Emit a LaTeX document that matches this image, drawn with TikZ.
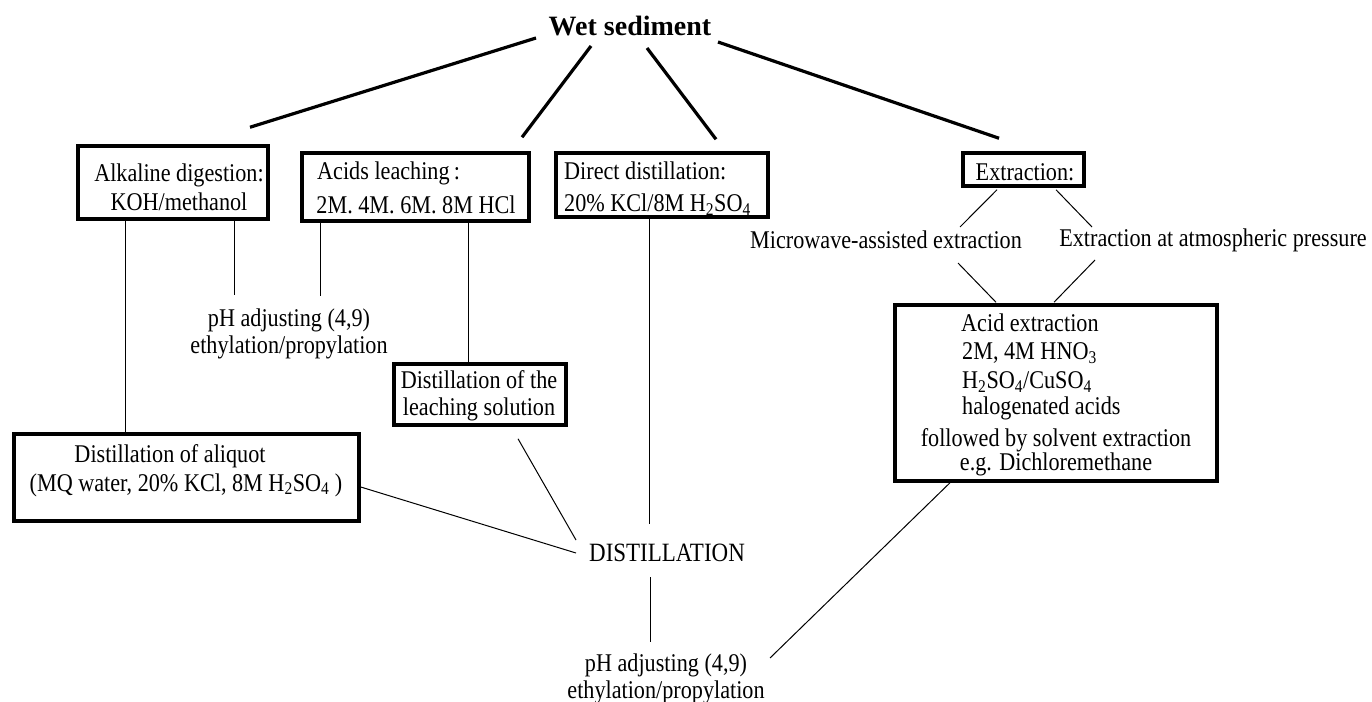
\documentclass[tikz,border=0pt]{standalone}
\usepackage{fontspec}
\setmainfont{Liberation Serif}
\newfontfamily\tallserif[FakeStretch=0.87]{Liberation Serif}
\begin{document}
\begin{tikzpicture}[x=1pt,y=-1pt,
  box/.style={draw,line width=3.5pt,inner sep=0pt},
  txt/.style={inner sep=0pt,align=center,font=\tallserif\fontsize{25.5}{27}\selectfont},
  heavy/.style={line width=3.2pt},
  thin/.style={line width=1pt}]
\fill[white] (0,0) rectangle (1372,701);
\useasboundingbox (0,0) rectangle (1372,701);
% title
\node[inner sep=0pt,font=\fontsize{28}{32}\selectfont\bfseries] (ws) at (630,26) {Wet sediment};
% boxes
\node[box,minimum width=190pt,minimum height=73pt] (alk) at (173,182.5) {};
\node[txt] (alkT) at (179,187.5) {Alkaline digestion:\\[2pt]KOH/methanol};
\node[box,minimum width=227pt,minimum height=68pt] (acid) at (415.5,187) {};
\node[txt,anchor=west] (acidT1) at (317,173) {Acids leaching\,:};
\node[txt] (acidT2) at (416,205) {2M. 4M. 6M. 8M HCl};
\node[box,minimum width=212pt,minimum height=64pt] (dir) at (662,185) {};
\node[txt,anchor=west,align=left] (dirT) at (564,189) {Direct distillation:\\[5pt]20\% KCl/8M H\textsubscript{2}SO\textsubscript{4}};
\node[box,minimum width=121pt,minimum height=33pt] (ext) at (1023.5,169.5) {};
\node[txt] (extT) at (1025,172) {Extraction:};
\node[txt] (mw) at (886,240) {Microwave-assisted extraction};
\node[txt] (atm) at (1213,240) {Extraction at atmospheric pressure};
\node[box,minimum width=322pt,minimum height=176pt] (aqx) at (1056,393) {};
\node[txt,anchor=west] (aqx1) at (961,323) {Acid extraction};
\node[txt,anchor=west] (aqx2) at (962,353) {2M, 4M HNO\textsubscript{3}};
\node[txt,anchor=west] (aqx3) at (962,382) {H\textsubscript{2}SO\textsubscript{4}/CuSO\textsubscript{4}};
\node[txt,anchor=west] (aqx4) at (962,408) {halogenated acids};
\node[txt] (aqx5) at (1056,452) {followed by solvent extraction\\[-3pt]e.g. Dichloremethane};
\node[txt] (ph1) at (289,333.5) {pH adjusting (4,9)\\ethylation/propylation};
\node[box,minimum width=172pt,minimum height=61pt] (leach) at (480,394.5) {};
\node[txt] (leachT) at (479,396) {Distillation of the\\leaching solution};
\node[box,minimum width=345pt,minimum height=87pt] (aliq) at (186.5,477.5) {};
\node[txt] (aliqT1) at (170,456) {Distillation of aliquot};
\node[txt] (aliqT2) at (186,485) {(MQ water, 20\% KCl, 8M H\textsubscript{2}SO\textsubscript{4} )};
\node[txt,font=\tallserif\fontsize{26.4}{30}\selectfont] (distl) at (667,553) {DISTILLATION};
\node[txt] (ph2) at (666,678.5) {pH adjusting (4,9)\\ethylation/propylation};
% heavy connectors
\draw[heavy] ([shift={(-94,12)}]ws.center) -- ([shift={(77,-17)}]alk.north);
\draw[heavy] ([shift={(-39,20)}]ws.center) -- ([shift={(106.5,-14)}]acid.north);
\draw[heavy] ([shift={(17,22)}]ws.center) -- ([shift={(54,-12)}]dir.north);
\draw[heavy] ([shift={(88,16)}]ws.center) -- ([shift={(-24.5,-13)}]ext.north);
% thin connectors
\draw[thin] ([shift={(-48,0)}]alk.south) -- ([shift={(-61.5,0)}]aliq.north);
\draw[thin] ([shift={(61,0)}]alk.south) -- ([shift={(-55,-38.5)}]ph1.center);
\draw[thin] ([shift={(-95.5,0)}]acid.south) -- ([shift={(31,-37.5)}]ph1.center);
\draw[thin] ([shift={(52.5,0)}]acid.south) -- ([shift={(-12,0)}]leach.north);
\draw[thin] ([shift={(-13,0)}]dir.south) -- ([shift={(-18,-29)}]distl.center);
\draw[thin] ([shift={(0,9.5)}]aliq.east) -- ([shift={(-91,0)}]distl.center);
\draw[thin] ([shift={(38,12)}]leach.south) -- ([shift={(-91,-13)}]distl.center);
\draw[thin] ([shift={(-17,24)}]distl.center) -- ([shift={(-16,-36.5)}]ph2.center);
\draw[thin] ([shift={(-26.5,2)}]ext.south) -- ([shift={(74,-13)}]mw.center);
\draw[thin] ([shift={(32.5,2)}]ext.south) -- ([shift={(-121,-13)}]atm.center);
\draw[thin] ([shift={(72,23)}]mw.center) -- ([shift={(-60,-1)}]aqx.north);
\draw[thin] ([shift={(-118,20)}]atm.center) -- ([shift={(-2,-1)}]aqx.north);
\draw[thin] ([shift={(-106,0)}]aqx.south) -- ([shift={(104,-20.5)}]ph2.center);
\end{tikzpicture}
\end{document}
